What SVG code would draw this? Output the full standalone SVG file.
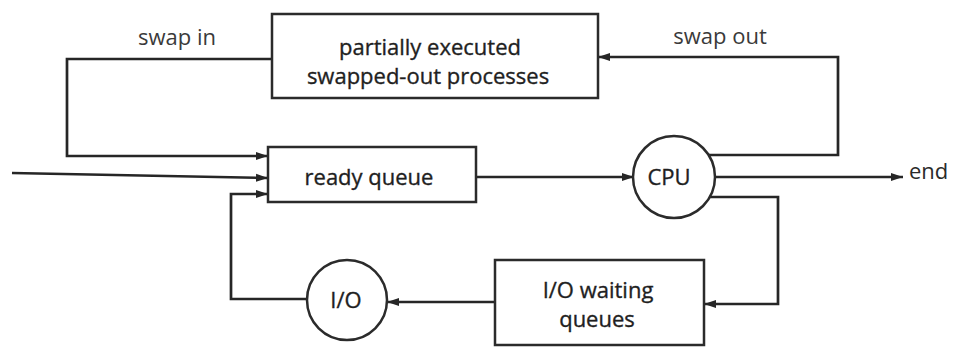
<svg xmlns="http://www.w3.org/2000/svg" width="953" height="349" viewBox="0 0 953 349">
  <defs>
    <marker id="arrow" markerUnits="userSpaceOnUse" markerWidth="12" markerHeight="10" viewBox="0 0 12 10" refX="12" refY="5" orient="auto">
      <path d="M0,1 L12,5 L0,9 Z" fill="#262626"/>
    </marker>
    <style>
      .box { fill: #ffffff; stroke: #2b2b2b; stroke-width: 2.5; }
      .wire { fill: none; stroke: #262626; stroke-width: 2.7; marker-end: url(#arrow); }
      .label { font-family: "Open Sans", "Liberation Sans", sans-serif; font-size: 22px; fill: #1f1f1f; stroke: #1f1f1f; stroke-width: 0.35; text-anchor: middle; }
      .edge-label { font-family: "Open Sans", "Liberation Sans", sans-serif; font-size: 22px; fill: #3a3a3a; text-anchor: middle; }
    </style>
  </defs>
  <rect width="953" height="349" fill="#ffffff"/>

  <!-- connectors -->
  <g id="connectors">
    <path class="wire" d="M272,59 H67 V156 H268"/>
    <path class="wire" d="M12,173 L268,178"/>
    <path class="wire" d="M307,299 H231 V194 H268"/>
    <path class="wire" d="M476,177 H634"/>
    <path class="wire" d="M715,177 H903"/>
    <path class="wire" d="M709,155 H838 V57 H598"/>
    <path class="wire" d="M710,197 H778 V304 H704"/>
    <path class="wire" d="M495,302 H387"/>
    <text class="edge-label" x="177" y="45">swap in</text>
    <text class="edge-label" x="720" y="44">swap out</text>
    <text class="edge-label" x="909" y="179" style="text-anchor: start; fill: #2a2a2a">end</text>
  </g>

  <!-- swapped-out processes -->
  <g id="swapped">
    <rect class="box" x="272" y="14" width="326" height="84"/>
    <text class="label" x="430" y="55">partially executed</text>
    <text class="label" x="428" y="84">swapped-out processes</text>
  </g>

  <!-- ready queue -->
  <g id="ready-queue">
    <rect class="box" x="268" y="147" width="208" height="55"/>
    <text class="label" x="369" y="185">ready queue</text>
  </g>

  <!-- CPU -->
  <g id="cpu">
    <circle class="box" cx="674" cy="177" r="41"/>
    <text class="label" x="669" y="185">CPU</text>
  </g>

  <!-- I/O device -->
  <g id="io">
    <circle class="box" cx="347" cy="300" r="40"/>
    <text class="label" x="346" y="308">I/O</text>
  </g>

  <!-- I/O waiting queues -->
  <g id="io-waiting">
    <rect class="box" x="495" y="260" width="209" height="85"/>
    <text class="label" x="598" y="298">I/O waiting</text>
    <text class="label" x="597" y="327">queues</text>
  </g>
</svg>
